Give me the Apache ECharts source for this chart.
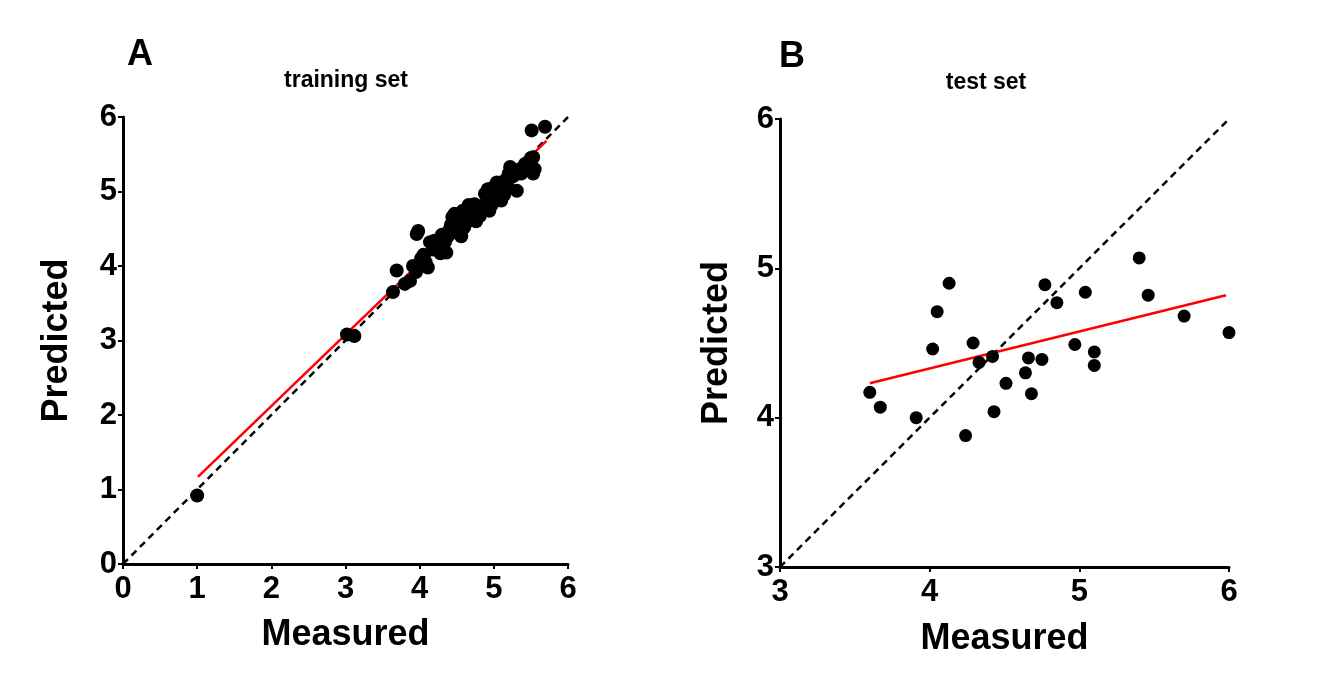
<!DOCTYPE html>
<html>
<head>
<meta charset="utf-8">
<script src="https://cdn.jsdelivr.net/npm/echarts@6/dist/echarts.min.js"></script>
<style>html,body{margin:0;padding:0;background:#fff;}#c{width:1324px;height:678px;}</style>
</head>
<body>
<div id="c"></div>
<script>
// Panel A: training set (measured, predicted)
const trainingPoints = [
  [1.00,0.92],[3.02,3.08],[3.12,3.06],[3.64,3.65],[3.69,3.94],[3.80,3.76],[3.87,3.80],
  [3.91,4.00],[3.95,3.92],[3.98,4.47],[3.96,4.43],[4.02,4.10],[4.05,4.15],[4.08,4.05],
  [4.11,3.98],[4.14,4.32],[4.18,4.22],[4.22,4.25],[4.25,4.27],[4.28,4.17],[4.32,4.20],
  [4.34,4.32],[4.36,4.18],[4.38,4.40],[4.40,4.48],[4.42,4.55],[4.45,4.54],[4.47,4.70],
  [4.48,4.60],[4.50,4.45],[4.52,4.58],[4.54,4.45],[4.57,4.55],[4.60,4.52],[4.63,4.63],
  [4.65,4.60],[4.68,4.72],[4.70,4.67],[4.72,4.78],[4.74,4.83],[4.78,4.70],[4.81,4.67],
  [4.83,4.80],[4.86,4.76],[4.90,4.85],[4.92,5.03],[4.95,4.95],[4.97,4.82],[4.99,4.90],
  [5.02,5.00],[5.04,5.12],[5.06,4.95],[5.08,5.08],[5.10,4.88],[5.12,5.05],[5.15,5.15],
  [5.18,5.10],[5.22,5.33],[5.25,5.20],[5.28,5.22],[5.31,5.01],[5.35,5.30],[5.37,5.24],
  [5.42,5.37],[5.47,5.40],[5.50,5.45],[5.53,5.46],[5.53,5.24],[5.55,5.30],[5.51,5.82],
  [5.69,5.87],[4.20,4.34],[4.44,4.66],[4.58,4.74],[4.56,4.40],[4.76,4.60],[4.88,4.97],
  [4.94,4.74],[5.00,5.06],[5.14,4.96],[5.20,5.24],[4.30,4.42],[4.66,4.82]
];
const trainingFit = [[1.01,1.17],[5.71,5.68]];
const trainingIdentity = [[0,0],[6,6]];

// Panel B: test set (measured, predicted)
const testPoints = [
  [3.60,4.17],[3.67,4.07],[3.91,4.00],[4.02,4.46],[4.05,4.71],[4.13,4.90],[4.24,3.88],
  [4.29,4.50],[4.33,4.37],[4.42,4.41],[4.43,4.04],[4.51,4.23],[4.64,4.30],[4.66,4.40],
  [4.68,4.16],[4.75,4.39],[4.77,4.89],[4.85,4.77],[4.97,4.49],[5.04,4.84],[5.10,4.44],
  [5.10,4.35],[5.40,5.07],[5.46,4.82],[5.70,4.68],[6.00,4.57]
];
const testFit = [[3.60,4.23],[5.98,4.82]];
const testIdentity = [[3,3],[6,6]];

const ticksA = [0,6,1];   // min, max, interval
const ticksB = [3,6,1];

const FONT = 'Liberation Sans, Arial, sans-serif';

function axis(range, name, isY, gap) {
  return {
    type: 'value', min: range[0], max: range[1], interval: range[2],
    name: name, nameLocation: 'middle', nameGap: gap,
    nameRotate: isY ? 90 : 0,
    nameTextStyle: {fontFamily: FONT, fontWeight: 'bold', fontSize: 36, color: '#000'},
    axisLine: {show: true, onZero: false, lineStyle: {color: '#000', width: 3}},
    axisTick: {show: true, inside: false, length: 5, lineStyle: {color: '#000', width: 2}},
    axisLabel: {fontFamily: FONT, fontWeight: 'bold', fontSize: 31, color: '#000', margin: isY ? 6 : 10},
    splitLine: {show: false}
  };
}

const chart = echarts.init(document.getElementById('c'));
chart.setOption({
  backgroundColor: '#fff',
  animation: false,
  grid: [
    {left: 123, top: 117, width: 445, height: 447},
    {left: 780, top: 119, width: 449, height: 448}
  ],
  xAxis: [
    Object.assign(axis(ticksA, 'Measured', false, 53), {gridIndex: 0}),
    Object.assign(axis(ticksB, 'Measured', false, 54), {gridIndex: 1})
  ],
  yAxis: [
    Object.assign(axis(ticksA, 'Predicted', true, 48), {gridIndex: 0}),
    Object.assign(axis(ticksB, 'Predicted', true, 45), {gridIndex: 1})
  ],
  graphic: [
    {type: 'text', left: 127, top: 37, style: {text: 'A', font: 'bold 36px ' + FONT, fill: '#000'}},
    {type: 'text', left: 779, top: 39, style: {text: 'B', font: 'bold 36px ' + FONT, fill: '#000'}},
    {type: 'text', x: 346, y: 81, style: {text: 'training set', font: 'bold 23px ' + FONT, fill: '#000', align: 'center', verticalAlign: 'middle'}},
    {type: 'text', x: 986, y: 83, style: {text: 'test set', font: 'bold 23px ' + FONT, fill: '#000', align: 'center', verticalAlign: 'middle'}}
  ],
  series: [
    {type: 'line', xAxisIndex: 0, yAxisIndex: 0, data: trainingIdentity, symbol: 'none',
     lineStyle: {color: '#000', width: 2.5, type: [7, 5]}, z: 2},
    {type: 'line', xAxisIndex: 0, yAxisIndex: 0, data: trainingFit, symbol: 'none',
     lineStyle: {color: '#ff0000', width: 2.5}, z: 3},
    {type: 'scatter', xAxisIndex: 0, yAxisIndex: 0, data: trainingPoints, symbolSize: 14,
     itemStyle: {color: '#000', opacity: 1}, z: 4},
    {type: 'line', xAxisIndex: 1, yAxisIndex: 1, data: testIdentity, symbol: 'none',
     lineStyle: {color: '#000', width: 2.5, type: [7, 5]}, z: 2},
    {type: 'line', xAxisIndex: 1, yAxisIndex: 1, data: testFit, symbol: 'none',
     lineStyle: {color: '#ff0000', width: 2.5}, z: 3},
    {type: 'scatter', xAxisIndex: 1, yAxisIndex: 1, data: testPoints, symbolSize: 13,
     itemStyle: {color: '#000', opacity: 1}, z: 4}
  ]
});
</script>
</body>
</html>
